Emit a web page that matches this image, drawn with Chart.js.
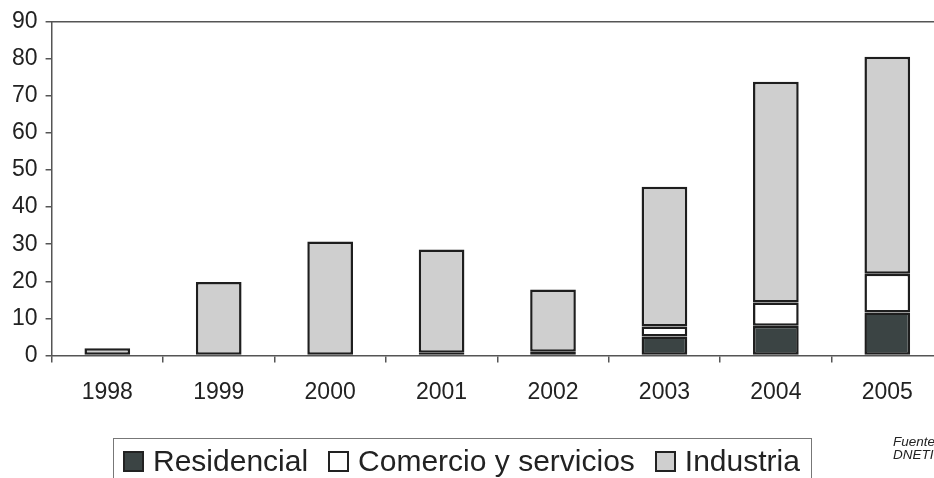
<!DOCTYPE html>
<html>
<head>
<meta charset="utf-8">
<script src="https://cdn.jsdelivr.net/npm/chart.js@4"></script>
<style>
  html, body { margin: 0; padding: 0; background: #fff; overflow: hidden; width: 934px; height: 478px; }
  #wrap { position: absolute; left: 0; top: 0; width: 950px; height: 478px; }
  #legend {
    position: absolute; left: 113px; top: 438px; width: 699px; height: 60px;
    border: 1px solid #777; box-sizing: border-box;
    font-family: "Liberation Sans", Arial, sans-serif; font-size: 30px; color: #222;
  }
  #legend .row { position: absolute; left: 9px; top: 7px; display: flex; align-items: center; line-height: 1; white-space: nowrap; }
  #legend .box { width: 17px; height: 17px; border: 2px solid #222; margin-right: 9px; }
  #legend .item { display: flex; align-items: center; margin-right: 20px; }
  #fuente {
    position: absolute; left: 893px; top: 435px; white-space: nowrap;
    font-family: "Liberation Sans", Arial, sans-serif; font-style: italic; font-size: 13.5px; line-height: 13px; color: #222;
  }
</style>
</head>
<body>
<div id="wrap"><canvas id="grafico" width="950" height="478"></canvas></div>
<div id="legend"><div class="row" id="legendRow"></div></div>
<div id="fuente">Fuente:<br>DNETI</div>
<script>
// Datos
const anios = ['1998', '1999', '2000', '2001', '2002', '2003', '2004', '2005'];
const residencial = [0, 0, 0.2, 0.7, 1.0, 5.1, 8.0, 11.6];
const comercio = [0, 0, 0, 0, 0, 2.7, 6.3, 10.4];
const industria = [1.9, 19.8, 30.5, 27.9, 16.8, 37.7, 59.5, 58.6];
const ticksY = [0, 10, 20, 30, 40, 50, 60, 70, 80, 90];

const series = [
    { label: 'Residencial', data: residencial, color: '#3b4444' },
    { label: 'Comercio y servicios', data: comercio, color: '#ffffff' },
    { label: 'Industria', data: industria, color: '#cfcfcf' }
];

// línea superior del área del gráfico
const lineaSuperior = {
    id: 'lineaSuperior',
    afterDraw(chart) {
        const a = chart.chartArea;
        const ctx = chart.ctx;
        ctx.save();
        ctx.strokeStyle = '#555';
        ctx.lineWidth = 1.5;
        ctx.beginPath();
        ctx.moveTo(a.left, a.top);
        ctx.lineTo(a.right, a.top);
        ctx.stroke();
        ctx.restore();
    }
};

const fuenteTicks = { family: '"Liberation Sans", Arial, sans-serif', size: 23 };

new Chart(document.getElementById('grafico').getContext('2d'), {
    type: 'bar',
    data: {
        labels: anios,
        datasets: series.map(s => ({
            label: s.label,
            // los ceros no se dibujan
            data: s.data.map(v => (v === 0 ? null : v)),
            backgroundColor: s.color,
            borderColor: '#1e1e1e',
            borderWidth: 2.5,
            borderSkipped: false,
            barPercentage: 0.41,
            categoryPercentage: 1
        }))
    },
    options: {
        responsive: false,
        animation: false,
        layout: { padding: { top: 9, left: 4, right: 7, bottom: 56 } },
        plugins: { legend: { display: false }, tooltip: { enabled: false } },
        scales: {
            x: {
                stacked: true,
                grid: { drawOnChartArea: false, tickLength: 7, color: '#555', lineWidth: 1.5 },
                border: { color: '#555', width: 1.5 },
                ticks: { color: '#222', font: fuenteTicks, padding: 16 }
            },
            y: {
                stacked: true,
                min: 0,
                max: 90,
                afterBuildTicks: axis => { axis.ticks = ticksY.map(v => ({ value: v })); },
                grid: { drawOnChartArea: false, tickLength: 6, color: '#555', lineWidth: 1.5 },
                border: { color: '#555', width: 1.5 },
                ticks: { color: '#222', font: fuenteTicks, padding: 8 }
            }
        }
    },
    plugins: [lineaSuperior]
});

// leyenda
const row = document.getElementById('legendRow');
series.forEach(s => {
    const item = document.createElement('div');
    item.className = 'item';
    const box = document.createElement('span');
    box.className = 'box';
    box.style.background = s.color;
    item.appendChild(box);
    item.appendChild(document.createTextNode(s.label));
    row.appendChild(item);
});
</script>
</body>
</html>
